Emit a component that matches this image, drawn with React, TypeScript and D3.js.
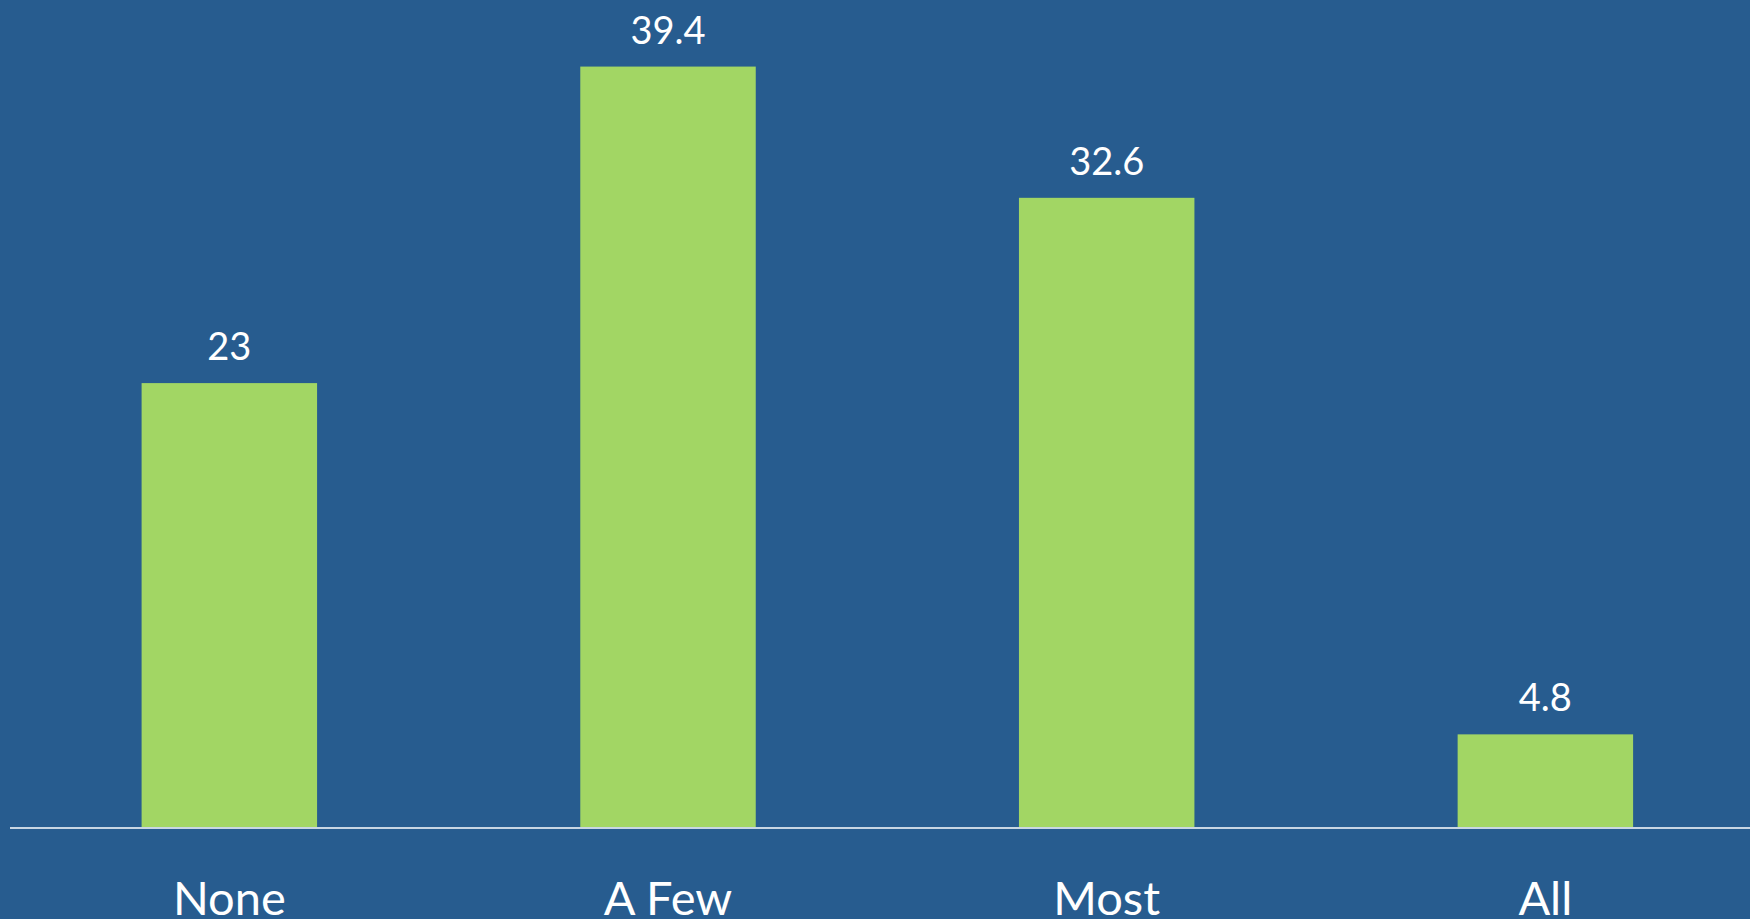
import React, { useEffect, useRef } from "react";
import * as d3 from "d3";

const categories = ["None", "A Few", "Most", "All"];
const values = [23, 39.4, 32.6, 4.8];
const valueLabels = ["23", "39.4", "32.6", "4.8"];

const App = () => {
  const ref = useRef<SVGSVGElement | null>(null);

  useEffect(() => {
    const width = 1750;
    const height = 919;
    const baseline = 827;

    const svg = d3.select(ref.current);
    svg.selectAll("*").remove();

    svg
      .append("rect")
      .attr("width", width)
      .attr("height", height)
      .attr("fill", "#275C8F");

    const xScale = d3
      .scaleBand()
      .domain(categories)
      .range([10, 1764.7])
      .paddingInner(0.6)
      .paddingOuter(0.3);

    const yScale = d3.scaleLinear().domain([0, 40]).range([baseline, baseline - 40 * 19.3]);

    const data = categories.map((c, i) => ({ label: c, value: values[i], text: valueLabels[i] }));

    // bars
    svg
      .selectAll("rect.bar")
      .data(data)
      .enter()
      .append("rect")
      .attr("class", "bar")
      .attr("x", (d) => xScale(d.label) as number)
      .attr("width", xScale.bandwidth())
      .attr("y", (d) => yScale(d.value))
      .attr("height", (d) => baseline - yScale(d.value))
      .attr("fill", "#A2D664");

    // axis line
    svg
      .append("line")
      .attr("x1", 10)
      .attr("x2", width)
      .attr("y1", baseline + 1)
      .attr("y2", baseline + 1)
      .attr("stroke", "#FFFFFF")
      .attr("stroke-width", 1.6);

    // value labels
    svg
      .selectAll("text.value")
      .data(data)
      .enter()
      .append("text")
      .attr("class", "value")
      .attr("x", (d) => (xScale(d.label) as number) + xScale.bandwidth() / 2)
      .attr("y", (d) => yScale(d.value) - 23)
      .attr("text-anchor", "middle")
      .attr("fill", "#FFFFFF")
      .style("font-family", "Lato, 'Open Sans', sans-serif")
      .style("font-size", "38px")
      .text((d) => d.text);

    // category labels (cut by the bottom edge, as in the original slide)
    svg
      .selectAll("text.cat")
      .data(data)
      .enter()
      .append("text")
      .attr("class", "cat")
      .attr("x", (d) => (xScale(d.label) as number) + xScale.bandwidth() / 2)
      .attr("y", 915)
      .attr("text-anchor", "middle")
      .attr("fill", "#FFFFFF")
      .style("font-family", "Lato, 'Open Sans', sans-serif")
      .style("font-size", "47px")
      .text((d) => d.label);
  }, []);

  return (
    <svg
      ref={ref}
      width={1750}
      height={919}
      style={{ position: "fixed", left: 0, top: 0, display: "block" }}
    />
  );
};

export default App;
